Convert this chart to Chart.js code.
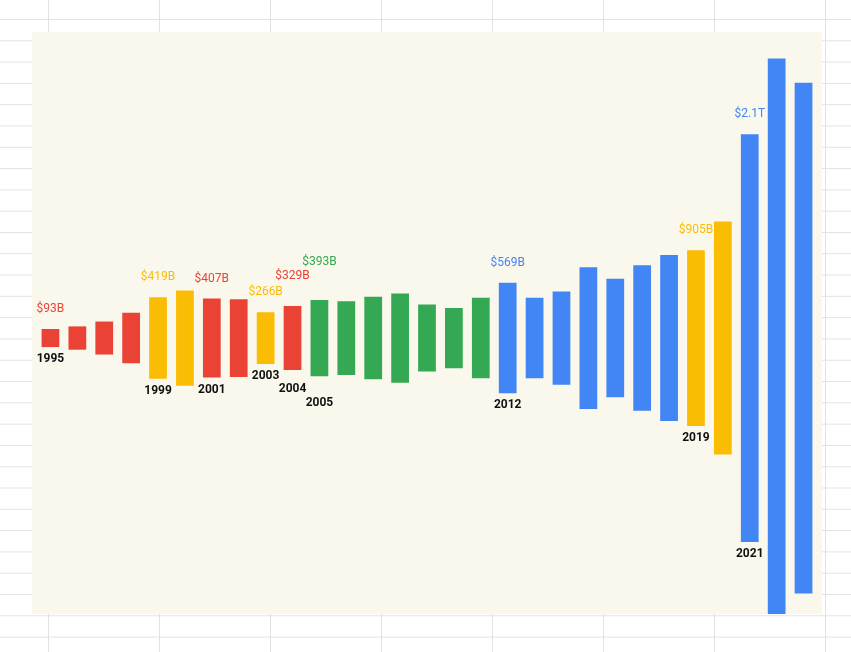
<!DOCTYPE html>
<html><head><meta charset="utf-8">
<script src="https://cdn.jsdelivr.net/npm/chart.js@4"></script>
<style>
html,body{margin:0;padding:0;width:851px;height:652px;overflow:hidden;background-color:#fff;
background-image:linear-gradient(to right,#e2e2e2 1px,transparent 1px),linear-gradient(to bottom,#e2e2e2 1px,transparent 1px);
background-size:111px 100%,100% 21.3px;background-position:48px 0,0 19px;}
#wrap{position:absolute;left:32px;top:32px;width:790px;height:582px;background:#faf8ec;}
canvas{display:block;}
</style></head><body>
<div id="wrap"><canvas id="c" width="790" height="582"></canvas></div>
<script>
const years=['1995','1996','1997','1998','1999','2000','2001','2002','2003','2004','2005','2006','2007','2008','2009','2010','2011','2012','2013','2014','2015','2016','2017','2018','2019','2020','2021','2022','2023'];
const values=[93,120,170,260,419,490,407,400,266,329,393,380,425,460,345,310,415,569,415,480,730,610,750,855,905,1200,2100,2880,2630];
const groups=['r','r','r','r','y','y','r','r','y','r','g','g','g','g','g','g','g','b','b','b','b','b','b','b','y','y','b','b','b'];
const valueLabels={'1995':'$93B','1999':'$419B','2001':'$407B','2003':'$266B','2004':'$329B','2005':'$393B','2012':'$569B','2019':'$905B','2021':'$2.1T'};
const colorMap={r:'#ea4335',y:'#fbbc04',g:'#34a853',b:'#4285f4'};
const topOff={'2004':30,'2005':38};
const botOff={'2004':19,'2005':27};
const labelPlugin={id:'lbl',afterDatasetsDraw(chart){
  const ctx=chart.ctx,meta=chart.getDatasetMeta(0);
  ctx.save();ctx.textAlign='center';ctx.textBaseline='middle';
  years.forEach((y,i)=>{
    if(!valueLabels[y])return;
    const el=meta.data[i];const top=Math.min(el.y,el.base),bot=Math.max(el.y,el.base);
    ctx.font='12px Roboto';ctx.fillStyle=colorMap[groups[i]];
    ctx.fillText(valueLabels[y],el.x,top-(topOff[y]||20));
    ctx.font='bold 12px Roboto';ctx.fillStyle='#111';
    ctx.fillText(y,el.x,bot+(botOff[y]||12));
  });
  ctx.restore();
}};
new Chart(document.getElementById('c'),{
  type:'bar',
  data:{labels:years,datasets:[{data:values.map(v=>[-v/2,v/2]),backgroundColor:groups.map(g=>colorMap[g]),
    categoryPercentage:1,barPercentage:0.66,borderSkipped:false}]},
  options:{responsive:false,animation:false,devicePixelRatio:1,
    layout:{padding:{left:5,right:5,top:0,bottom:0}},
    plugins:{legend:{display:false},tooltip:{enabled:false}},
    scales:{x:{display:false},y:{display:false,min:-1421,max:1576}}},
  plugins:[labelPlugin]
});
</script>
</body></html>
